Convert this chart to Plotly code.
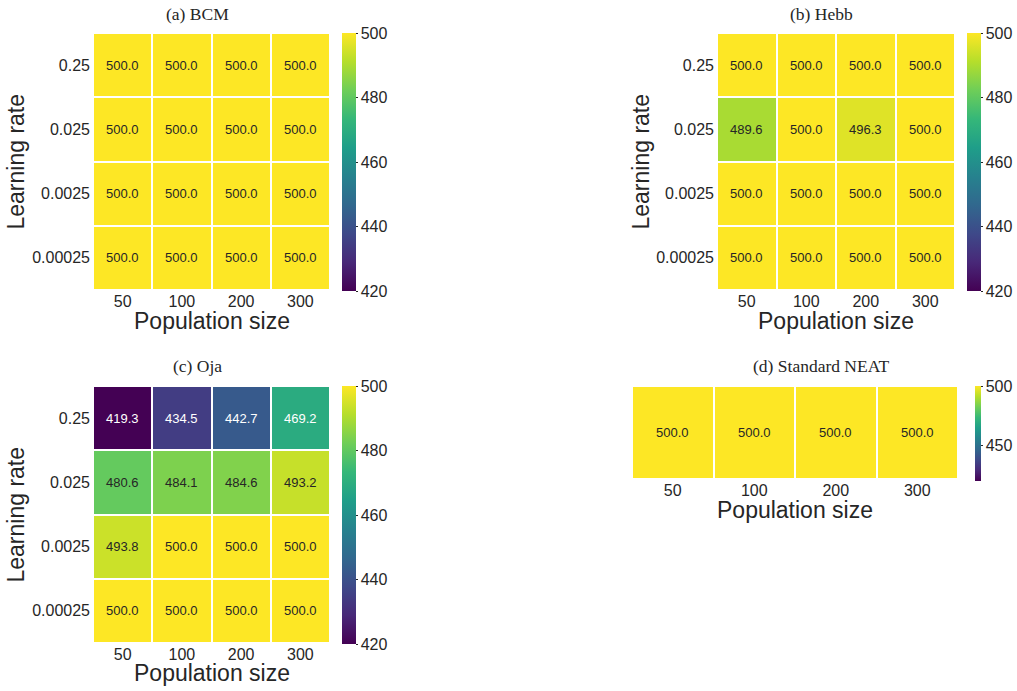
import plotly.graph_objects as go
from plotly.colors import sample_colorscale, unlabel_rgb

W, H = 1017, 691

pop_sizes = ["50", "100", "200", "300"]
learning_rates = ["0.25", "0.025", "0.0025", "0.00025"]

bcm_values = [
    [500.0, 500.0, 500.0, 500.0],
    [500.0, 500.0, 500.0, 500.0],
    [500.0, 500.0, 500.0, 500.0],
    [500.0, 500.0, 500.0, 500.0],
]
hebb_values = [
    [500.0, 500.0, 500.0, 500.0],
    [489.6, 500.0, 496.3, 500.0],
    [500.0, 500.0, 500.0, 500.0],
    [500.0, 500.0, 500.0, 500.0],
]
oja_values = [
    [419.3, 434.5, 442.7, 469.2],
    [480.6, 484.1, 484.6, 493.2],
    [493.8, 500.0, 500.0, 500.0],
    [500.0, 500.0, 500.0, 500.0],
]
neat_values = [[500.0, 500.0, 500.0, 500.0]]

titles = ["(a) BCM", "(b) Hebb", "(c) Oja", "(d) Standard NEAT"]
cbar_ticks_full = [420, 440, 460, 480, 500]
cbar_ticks_neat = [450, 500]
ZMIN, ZMAX = 420, 500

TXT = "#262626"
SANS = "Liberation Sans, Arial, sans-serif"
SERIF = "Liberation Serif, Times New Roman, serif"


def fx(px):
    return px / W


def fy(py):
    return 1 - py / H


def lum_dark(v):
    t = (v - ZMIN) / (ZMAX - ZMIN)
    t = min(max(t, 0), 1)
    c = sample_colorscale("Viridis", [t])[0]
    r, g, b = [x / 255 for x in unlabel_rgb(c)]
    def ch(x):
        return x / 12.92 if x <= 0.03928 else ((x + 0.055) / 1.055) ** 2.4
    L = 0.2126 * ch(r) + 0.7152 * ch(g) + 0.0722 * ch(b)
    return L > 0.408


panels = [
    dict(z=bcm_values, ys=learning_rates, box=(93, 330, 33, 290), cb=(342, 33, 258, 14),
         ticks=cbar_ticks_full, title=(197, 14), ylab=(15, 161.5), xlab=(211.5, 321)),
    dict(z=hebb_values, ys=learning_rates, box=(717, 955, 33, 290), cb=(967, 33, 258, 14),
         ticks=cbar_ticks_full, title=(821, 14), ylab=(640, 161.5), xlab=(836, 321)),
    dict(z=oja_values, ys=learning_rates, box=(93, 330, 386, 643), cb=(342, 386, 258, 14),
         ticks=cbar_ticks_full, title=(197, 366), ylab=(15, 514.5), xlab=(211.5, 673)),
    dict(z=neat_values, ys=[" "], box=(632, 958, 386, 479), cb=(975, 386, 95, 6),
         ticks=cbar_ticks_neat, title=(821, 366), ylab=None, xlab=(795, 510)),
]

fig = go.Figure()
annotations = []
layout = {}

for i, p in enumerate(panels):
    n = "" if i == 0 else str(i + 1)
    x0, x1, y0, y1 = p["box"]
    cx, cy, clen, cth = p["cb"]
    fig.add_trace(go.Heatmap(
        z=p["z"], x=pop_sizes, y=p["ys"],
        xaxis="x" + n, yaxis="y" + n,
        coloraxis="coloraxis" + n,
        xgap=2, ygap=2, hoverinfo="skip",
    ))
    layout["xaxis" + n] = dict(
        domain=[fx(x0), fx(x1)], anchor="y" + n, type="category",
        categoryorder="array", categoryarray=pop_sizes,
        showgrid=False, zeroline=False, showline=False,
        ticks="", ticklabelstandoff=0,
        tickfont=dict(family=SANS, size=16, color=TXT),
    )
    layout["yaxis" + n] = dict(
        domain=[fy(y1), fy(y0)], anchor="x" + n, type="category",
        categoryorder="array", categoryarray=p["ys"],
        autorange="reversed",
        showgrid=False, zeroline=False, showline=False,
        showticklabels=p["ylab"] is not None,
        ticks="", ticklabelstandoff=2,
        tickfont=dict(family=SANS, size=16, color=TXT),
    )
    layout["coloraxis" + n] = dict(
        colorscale="Viridis", cmin=ZMIN, cmax=ZMAX,
        colorbar=dict(
            x=fx(cx), xanchor="left", xref="paper", xpad=0,
            y=fy(cy), yanchor="top", yref="paper", ypad=0,
            len=clen, lenmode="pixels", thickness=cth, thicknessmode="pixels",
            outlinewidth=0, tickvals=p["ticks"],
            ticks="outside", ticklen=2, tickcolor=TXT, tickwidth=1,
            tickfont=dict(family=SANS, size=16, color=TXT),
        ),
    )
    for r, row in enumerate(p["z"]):
        for c, v in enumerate(row):
            annotations.append(dict(
                x=c, y=r, xref="x" + n, yref="y" + n,
                text=f"{v:.1f}", showarrow=False,
                font=dict(family=SANS, size=13, color=TXT if lum_dark(v) else "white"),
            ))
    tx, ty = p["title"]
    annotations.append(dict(
        x=fx(tx), y=fy(ty), xref="paper", yref="paper", text=titles[i],
        showarrow=False, xanchor="center", yanchor="middle",
        font=dict(family=SERIF, size=17.5, color=TXT),
    ))
    lx, ly = p["xlab"]
    annotations.append(dict(
        x=fx(lx), y=fy(ly), xref="paper", yref="paper", text="Population size",
        showarrow=False, xanchor="center", yanchor="middle",
        font=dict(family=SANS, size=23, color=TXT),
    ))
    if p["ylab"] is not None:
        qx, qy = p["ylab"]
        annotations.append(dict(
            x=fx(qx), y=fy(qy), xref="paper", yref="paper", text="Learning rate",
            showarrow=False, xanchor="center", yanchor="middle", textangle=-90,
            font=dict(family=SANS, size=23, color=TXT),
        ))

fig.update_layout(
    width=W, height=H,
    margin=dict(l=0, r=0, t=0, b=0),
    paper_bgcolor="white", plot_bgcolor="white",
    showlegend=False,
    annotations=annotations,
    **layout,
)

fig.write_html("out.html")
